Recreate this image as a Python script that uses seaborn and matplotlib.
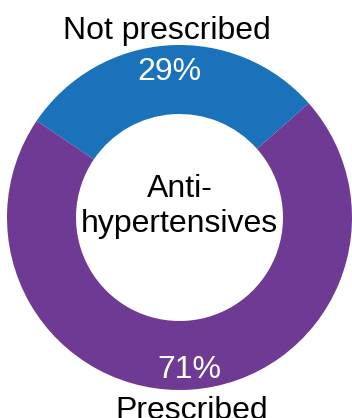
import numpy as np
import matplotlib
matplotlib.use("Agg")
import matplotlib.pyplot as plt
import seaborn as sns

categories = ["Not prescribed", "Prescribed"]
shares = [29, 71]
center_lines = ["Anti-", "hypertensives"]
colors = ["#1A72BB", "#6F3A93"]

sns.set_theme(style="white")
plt.rcParams["font.family"] = ["Liberation Sans", "DejaVu Sans"]

W, H = 352, 418
FS = 23                      # font size in points
CAP = 0.716 * FS * 100 / 72  # cap height in pixels at dpi 100

fig = plt.figure(figsize=(W / 100, H / 100), dpi=100)
ax = fig.add_axes([0, 0, 1, 1])

cx, cy, R = 179.5, H - 217.5, 172.5
wedges, _ = ax.pie(shares, colors=colors, startangle=41.5, counterclock=True,
                   center=(cx, cy), radius=R,
                   wedgeprops=dict(width=0.4 * R, edgecolor="none"))

# pie() resets the limits, so fix the canvas afterwards
ax.set_xlim(0, W)
ax.set_ylim(0, H)
ax.set_aspect("equal")
ax.axis("off")

for w, name, val in zip(wedges, categories, shares):
    mid = np.deg2rad((w.theta1 + w.theta2) / 2)
    px, py = cx + 0.865 * R * np.cos(mid), cy + 0.865 * R * np.sin(mid)
    ax.text(px, py - CAP / 2, f"{val}%", ha="center", va="baseline",
            color="white", fontsize=FS)
    lx, ly = cx + 1.105 * R * np.cos(mid), cy + 1.105 * R * np.sin(mid)
    ax.text(lx, ly - CAP / 2, name, ha="center", va="baseline",
            color="black", fontsize=FS)

# centre caption, two lines set on their own baselines
ax.text(cx, cy + 20.5, center_lines[0], ha="center", va="baseline",
        color="black", fontsize=FS)
ax.text(cx, cy - 14.5, center_lines[1], ha="center", va="baseline",
        color="black", fontsize=FS)

fig.savefig("out.png", dpi=100)
